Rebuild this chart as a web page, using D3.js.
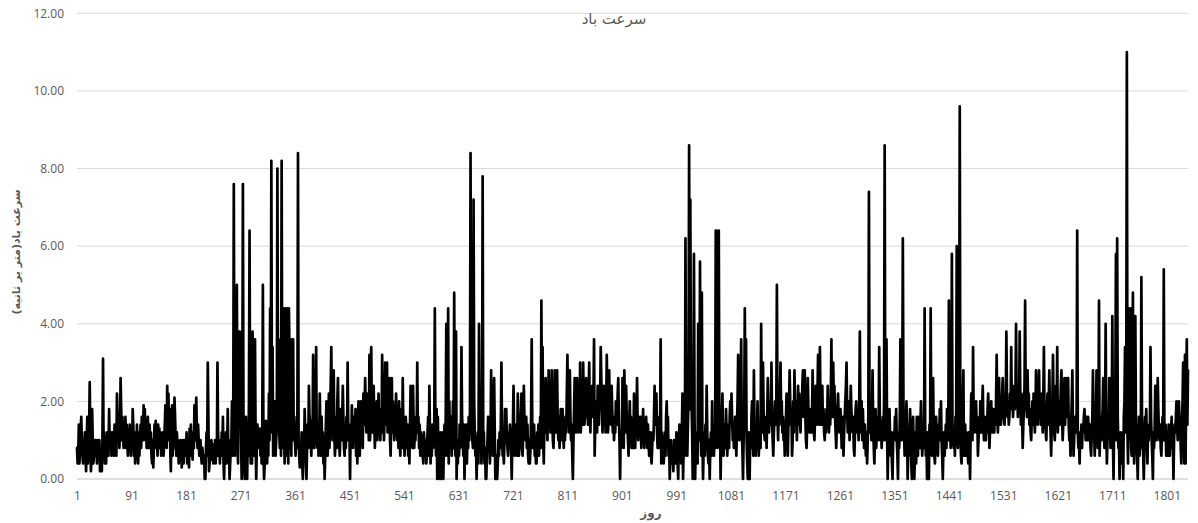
<!DOCTYPE html>
<html><head><meta charset="utf-8">
<script src="https://cdn.jsdelivr.net/npm/d3@7"></script>
<style>body{margin:0;background:#fff;} svg{display:block;}</style>
</head><body>
<svg id="chart" width="1198" height="523"></svg>
<script>
const chartTitle = "سرعت باد";
const yAxisTitle = "سرعت باد(متر بر ثانیه)";
const xAxisTitle = "روز";
const yTicks = [0, 2, 4, 6, 8, 10, 12];
const xTicks = [1, 91, 181, 271, 361, 451, 541, 631, 721, 811, 901, 991, 1081, 1171, 1261, 1351, 1441, 1531, 1621, 1711, 1801];

// daily wind speed (m/s), days 1-360
const windPart1 = [
0.8,0.4,0.6,1.4,0.4,0.8,1.2,1.6,1.0,0.6,0.4,1.0,0.8,1.2,0.6,0.2,1.0,1.6,0.4,0.8,1.2,2.5,1.0,0.2,0.6,1.8,1.0,0.4,0.6,1.0,
0.6,1.0,0.8,0.4,1.0,0.6,0.8,1.0,0.2,0.6,0.4,0.2,1.0,3.1,0.6,1.2,0.4,0.8,0.4,1.0,1.2,0.8,0.6,1.8,1.0,0.8,1.2,0.6,1.0,1.2,
1.0,0.6,1.4,0.8,1.2,0.6,2.2,1.6,1.0,1.4,0.8,1.2,2.6,1.8,1.0,1.6,1.2,0.8,1.4,1.0,1.6,0.8,1.4,1.0,0.6,1.2,0.8,1.4,1.0,0.6,
1.2,0.8,1.8,1.4,0.6,1.2,0.4,1.0,0.6,1.4,0.8,0.4,1.2,0.6,1.0,1.4,0.8,1.6,1.2,1.0,1.9,1.4,1.8,1.0,1.4,0.8,1.2,1.6,0.8,1.2,
1.4,0.8,1.2,0.6,0.4,1.0,0.3,0.8,1.4,1.0,1.5,0.8,1.2,0.6,1.4,1.0,1.3,0.8,1.2,0.6,1.0,0.8,1.2,0.6,1.0,1.4,1.9,1.2,0.8,2.4,
1.6,2.2,1.0,1.8,0.8,0.2,1.2,1.9,0.6,1.4,0.8,2.1,1.6,1.0,0.6,1.2,0.8,1.0,0.4,0.9,0.6,1.0,0.8,0.3,0.6,1.0,0.4,0.8,1.0,0.6,
0.6,1.2,0.4,0.8,1.0,0.3,1.3,0.8,1.4,0.6,1.0,0.5,1.2,0.8,1.9,1.0,1.6,2.1,1.2,0.8,1.4,1.0,0.6,0.8,1.0,0.6,0.4,0.8,0.6,0.4,
0.6,0.0,0.0,0.8,1.2,0.6,3.0,1.6,0.2,0.4,0.8,0.5,1.0,0.6,0.9,0.4,0.8,0.6,1.0,0.4,0.8,0.6,3.0,1.2,0.6,1.0,0.4,0.8,0.6,1.2,
0.8,1.6,0.4,0.0,1.0,0.6,1.2,0.4,0.8,1.8,0.6,1.0,0.0,0.4,0.8,1.0,2.0,0.6,1.2,7.6,1.4,0.6,2.2,0.8,5.0,1.0,0.4,3.8,1.6,3.8,
2.2,1.0,0.0,1.4,7.6,1.2,0.4,0.0,0.8,1.6,0.4,0.0,1.0,0.6,2.0,6.4,1.2,0.4,1.0,0.4,3.8,1.4,0.6,2.2,3.6,1.0,0.0,0.8,1.4,1.0,
1.2,0.8,1.3,0.6,1.0,0.4,1.2,5.0,0.6,0.0,0.4,1.0,1.5,0.8,0.4,1.2,0.6,2.2,1.0,4.4,1.6,8.2,1.2,3.4,0.6,1.4,0.9,2.0,0.6,1.0,
1.4,8.0,2.0,3.6,1.2,0.8,1.4,0.6,8.2,1.6,0.8,4.4,1.2,0.4,4.4,2.0,0.6,4.4,1.0,0.4,4.4,3.2,0.8,1.2,0.6,3.6,2.4,3.6,1.0,1.6
];
// days 361-720
const windPart2 = [
1.0,0.6,1.4,0.8,1.6,8.4,1.0,0.6,0.3,0.8,0.6,1.2,0.4,0.0,1.0,0.6,1.8,1.2,0.4,0.0,0.8,1.4,0.8,2.4,1.6,1.5,1.0,0.6,1.4,0.8,
3.2,1.2,0.8,2.0,1.6,3.4,1.0,0.8,1.4,0.6,1.0,2.2,1.2,0.6,1.6,0.8,1.2,0.4,1.0,0.0,0.6,1.4,2.0,1.0,0.6,1.2,2.2,0.8,1.6,2.4,
3.4,1.6,1.0,1.4,2.8,1.2,0.6,1.0,1.6,0.8,2.0,2.6,1.4,1.0,0.6,1.2,1.8,1.0,1.4,2.4,1.6,0.8,0.6,1.2,0.8,1.6,1.0,3.0,1.4,1.0,
1.2,0.0,1.4,1.0,1.9,1.2,0.8,1.6,1.4,1.0,1.8,0.6,1.2,0.4,1.6,2.0,1.0,0.6,1.4,2.0,1.2,1.6,0.8,2.2,1.4,2.0,2.6,1.6,1.2,2.2,
1.4,2.2,1.0,3.2,1.0,1.8,3.4,1.6,1.2,2.0,2.4,1.4,0.8,1.6,1.4,2.0,1.0,1.4,2.2,1.2,1.6,1.0,1.8,1.2,3.2,1.4,2.0,1.0,1.6,3.0,
2.8,1.4,3.0,1.2,1.8,1.2,2.6,1.0,0.6,1.6,2.6,1.2,2.0,1.4,1.0,1.6,1.2,2.2,1.4,1.0,1.4,0.8,2.0,1.0,0.6,1.2,1.8,0.8,2.6,1.4,
1.2,0.6,1.0,1.6,1.2,0.8,1.4,0.6,1.0,0.4,1.4,2.4,1.0,1.6,0.8,2.4,1.4,0.8,1.2,1.0,1.6,1.2,3.0,1.2,1.6,0.8,1.4,0.6,1.2,1.0,
1.0,0.6,0.4,1.2,0.8,0.6,1.0,0.4,0.8,1.2,1.6,0.6,2.4,1.2,0.4,1.0,0.6,1.4,0.8,1.2,1.0,4.4,1.2,0.6,1.8,0.0,1.6,0.4,1.0,0.0,
1.2,0.0,1.0,0.4,1.2,0.0,0.8,1.4,0.6,1.6,4.0,1.4,0.6,4.4,0.4,2.0,0.8,1.0,1.6,0.6,1.2,2.0,0.8,4.8,1.4,0.6,3.8,0.0,1.0,0.4,
1.0,0.6,1.4,0.8,1.2,3.4,1.6,1.2,0.6,1.4,0.0,1.0,0.6,1.4,0.4,1.2,0.8,1.6,1.0,1.6,8.4,1.2,3.6,1.0,0.8,7.2,2.0,1.2,0.6,1.0,
0.0,0.8,1.2,0.4,4.0,1.6,0.8,1.2,0.4,1.0,7.8,0.6,1.2,0.4,0.8,0.0,0.0,0.6,1.0,1.6,0.8,1.4,0.4,1.0,2.8,1.4,1.2,0.6,2.0,2.6,
1.2,0.0,0.4,0.6,0.0,0.4,1.0,0.6,1.2,0.8,1.4,3.0,1.2,0.6,1.0,0.4,1.0,1.8,1.2,1.8,1.0,0.8,0.6,1.2,0.8,1.4,1.0,0.8,0.0,1.0
];
// days 721-1080
const windPart3 = [
1.4,2.4,1.2,0.6,1.0,1.4,0.8,0.6,2.2,1.2,0.6,1.0,0.8,1.6,2.2,0.8,0.6,1.2,2.4,1.6,1.2,1.0,1.6,0.8,1.4,0.6,0.4,1.0,0.4,0.8,
1.6,3.6,1.4,0.8,1.2,1.4,0.6,1.0,0.4,0.4,1.2,0.8,1.4,0.6,1.0,1.6,0.8,4.6,1.8,3.4,1.0,0.4,1.6,1.2,2.6,1.6,1.4,1.0,1.8,2.8,
1.4,2.0,1.2,1.8,2.8,1.6,1.0,0.8,1.4,2.8,2.0,1.2,1.6,2.8,1.4,1.0,1.6,0.8,1.2,1.8,1.6,1.0,1.8,1.2,0.8,1.4,1.0,1.6,1.2,2.2,
3.2,2.0,1.8,1.2,2.8,1.6,1.0,1.4,0.6,0.0,1.0,1.8,2.6,1.4,1.2,1.8,2.6,1.6,1.2,1.8,1.4,3.0,1.2,1.6,2.0,1.4,3.0,2.0,1.4,1.6,
1.6,2.6,1.8,2.2,1.4,2.0,3.0,1.6,1.2,2.2,1.8,2.4,1.6,2.0,3.6,0.6,1.4,1.6,2.0,1.2,2.4,1.8,1.4,2.2,2.0,3.4,2.6,1.8,1.2,2.0,
2.4,1.6,2.0,1.2,1.8,3.2,2.0,1.2,1.6,2.8,1.6,2.2,1.4,2.4,1.8,1.2,1.6,1.0,1.4,1.2,2.0,1.6,1.4,2.2,2.6,1.6,1.0,0.0,1.2,0.8,
1.0,2.6,1.4,0.8,2.8,1.8,1.2,2.4,1.6,1.4,1.0,0.6,1.4,2.0,1.2,1.6,0.8,1.0,1.4,0.8,2.2,1.4,0.8,1.6,1.2,2.6,1.4,1.0,1.6,1.2,
1.2,1.6,0.8,1.4,1.0,1.8,1.2,0.8,1.4,1.0,1.6,1.2,0.8,1.4,1.0,0.6,0.8,1.2,0.6,0.4,0.8,1.2,1.0,1.6,2.4,1.4,1.8,2.2,1.2,0.8,
1.2,0.8,1.6,1.0,3.6,0.4,1.2,0.8,1.0,0.4,0.8,1.2,0.6,1.6,2.0,1.2,1.6,0.6,1.0,0.0,0.6,1.0,0.4,0.8,0.6,0.2,1.0,0.6,1.0,0.4,
1.2,0.8,0.4,0.0,1.0,1.4,0.6,1.0,0.4,1.2,2.2,0.0,0.8,1.0,0.6,6.2,1.6,1.0,0.6,1.4,2.0,8.6,1.8,7.2,2.4,2.0,1.2,0.0,1.4,5.8,
1.6,0.0,1.2,0.6,1.0,0.4,4.0,1.4,1.0,5.6,1.2,0.6,4.8,1.0,0.0,0.8,1.2,0.6,1.4,1.0,2.4,1.2,0.6,0.4,1.0,0.0,0.8,1.2,0.6,2.0,
0.8,1.4,0.6,1.2,0.8,6.4,6.4,2.0,0.8,1.6,6.4,1.2,1.6,0.0,1.0,1.6,2.2,1.2,0.6,1.4,1.0,0.8,1.8,1.2,0.6,1.0,1.4,0.8,1.6,2.0
];
// days 1081-1440
const windPart4 = [
1.4,2.2,1.6,1.0,1.4,0.8,1.0,1.6,1.2,0.6,1.4,2.0,3.2,1.4,1.0,1.6,2.2,3.6,1.2,0.8,0.0,1.0,1.6,4.4,1.8,3.6,1.0,0.4,0.0,1.2,
1.0,0.0,1.2,0.8,1.6,2.0,1.2,0.6,2.8,1.4,0.8,0.6,1.4,1.0,2.0,1.2,0.6,1.0,1.4,0.8,4.0,1.6,1.2,3.0,1.8,1.2,1.0,1.4,1.6,0.8,
1.6,2.6,1.8,1.2,1.6,2.0,1.4,3.0,1.6,1.0,0.6,1.2,1.6,2.0,1.4,1.8,5.0,1.6,1.0,1.8,1.4,2.2,3.0,1.6,2.0,1.2,1.6,1.0,1.2,0.6,
1.2,1.6,2.2,1.0,0.6,1.4,1.8,2.8,2.0,1.4,1.8,0.6,1.0,2.0,1.2,2.8,1.8,1.4,2.0,1.0,1.6,2.4,1.4,2.2,1.6,1.2,2.0,1.6,2.4,2.8,
2.0,1.6,2.8,1.6,1.0,0.8,1.4,2.6,1.8,1.6,1.2,1.4,1.8,1.2,1.6,2.8,1.8,1.2,1.0,1.6,2.4,1.8,1.4,2.2,3.2,2.0,1.4,3.4,2.0,1.4,
1.6,2.4,1.4,1.8,1.2,1.0,1.6,1.2,1.8,1.4,2.4,1.6,1.2,1.8,1.4,2.0,3.6,1.8,1.6,3.0,2.0,2.4,1.6,1.2,0.8,1.4,1.8,2.2,1.6,1.2,
1.2,1.8,1.4,0.8,1.0,1.6,0.6,1.2,1.6,2.0,2.4,3.0,1.8,1.2,1.6,2.0,1.0,1.6,2.4,1.8,1.4,1.2,1.6,0.8,0.6,1.2,1.8,2.0,1.4,1.2,
1.6,1.0,2.0,3.8,1.4,1.2,2.0,1.0,1.8,1.2,0.8,1.4,1.0,0.6,1.2,0.4,1.0,1.6,7.4,1.6,1.2,2.0,1.0,1.6,2.8,1.4,0.8,0.4,1.2,1.8,
0.8,1.2,1.6,1.0,1.4,3.4,1.6,1.0,1.4,0.8,1.2,1.6,1.0,2.0,8.6,1.4,1.0,3.6,1.2,0.0,1.0,1.4,1.8,1.0,0.6,1.2,0.4,0.0,1.0,1.2,
1.0,1.6,1.2,1.8,1.0,0.6,0.0,1.2,0.8,1.6,3.6,1.4,1.0,1.8,6.2,2.0,1.2,0.6,1.4,1.0,2.0,1.2,0.0,0.8,0.6,1.2,1.8,1.0,0.4,0.0,
1.2,1.6,0.8,0.0,0.6,1.2,0.4,1.6,1.0,0.6,1.6,1.0,0.8,1.4,2.0,1.2,0.6,1.0,1.4,0.8,4.4,1.2,0.6,1.0,0.0,1.2,0.6,0.0,1.4,1.0,
4.4,1.2,0.6,1.0,2.6,1.2,0.6,0.4,1.0,1.6,0.8,1.2,0.6,1.4,1.0,1.8,1.2,2.0,1.0,0.6,0.0,0.8,1.2,0.6,1.0,1.4,0.8,1.8,1.2,1.0
];
// days 1441-1800
const windPart5 = [
4.6,1.0,1.6,0.8,1.2,5.8,1.4,1.0,0.8,1.2,0.6,1.6,1.0,6.0,1.2,0.8,1.6,2.0,9.6,1.4,0.6,0.4,1.2,2.0,2.8,0.6,1.0,1.4,0.6,1.2,
1.0,0.8,0.4,1.2,1.0,0.0,1.2,2.2,1.4,1.0,3.4,1.6,1.2,1.8,1.4,2.0,1.2,1.6,0.6,1.0,1.4,1.2,2.0,1.6,1.2,1.8,2.4,1.4,1.0,1.6,
1.4,1.0,1.6,1.2,1.8,2.2,1.4,0.8,1.2,1.6,2.0,1.4,1.2,1.8,1.6,1.2,1.8,1.4,2.0,3.2,1.6,1.2,1.8,2.6,1.4,2.0,1.4,1.6,2.2,2.6,
2.0,1.6,1.4,2.0,1.8,3.8,2.2,1.6,2.0,1.4,1.6,2.2,1.8,3.4,1.8,2.4,1.6,2.0,2.4,1.8,2.2,4.0,2.0,2.2,1.6,2.4,1.8,3.8,2.2,1.4,
2.2,1.6,0.8,1.4,1.8,2.4,4.6,1.8,2.2,1.6,2.8,1.8,2.2,1.4,1.8,1.2,1.0,1.6,2.0,1.4,2.2,1.8,1.2,1.6,2.8,2.0,1.6,1.4,2.0,2.8,
1.6,2.2,1.4,1.8,2.2,1.2,2.0,3.4,1.8,1.6,1.2,1.0,1.8,2.2,1.4,2.0,2.8,1.6,1.2,0.6,1.4,2.0,3.2,1.8,1.2,1.0,1.8,2.4,1.6,3.4,
1.2,1.6,2.0,1.4,1.8,2.4,2.8,1.6,1.0,1.4,2.0,2.6,1.4,2.2,1.6,2.6,1.8,2.6,1.4,1.0,1.2,0.6,1.4,2.0,2.8,1.2,0.6,1.0,1.6,1.4,
1.2,1.6,6.4,1.2,0.8,1.0,0.4,1.2,1.0,1.4,0.8,1.4,1.2,1.6,1.8,1.4,1.0,1.2,1.6,1.0,1.6,1.2,1.0,1.4,0.8,0.6,1.2,1.6,2.8,1.4,
1.2,0.6,1.4,1.8,2.8,1.2,0.8,1.4,4.6,0.6,1.2,1.6,1.0,1.4,1.8,2.6,1.2,0.8,1.6,4.0,1.4,0.4,1.0,1.6,1.2,2.6,1.4,0.8,1.0,1.6,
4.2,1.0,0.0,1.4,1.2,2.4,5.8,1.0,6.2,1.6,0.8,1.0,0.0,1.2,0.6,1.0,0.4,1.2,0.0,1.6,2.0,3.4,1.2,2.0,11.0,1.2,0.4,4.4,1.0,4.2,
4.4,0.8,0.6,1.6,4.8,1.2,0.4,1.0,4.2,1.4,1.2,0.6,0.0,1.0,1.6,0.6,1.2,0.8,5.2,1.6,1.0,0.6,0.0,0.8,1.6,1.2,1.8,1.0,0.4,1.2,
1.0,1.4,1.2,3.4,1.6,1.0,0.6,0.0,1.2,0.8,1.4,2.4,1.6,1.0,1.4,2.6,1.8,1.2,1.0,1.4,0.8,0.6,1.2,1.6,1.0,5.4,1.2,1.0,1.4,0.6
];
// days 1801-1836
const windPart6 = [
0.8,1.2,0.6,1.4,1.0,0.6,1.2,1.2,1.6,0.8,1.0,0.0,1.0,1.4,1.2,1.6,2.0,1.4,1.0,1.6,2.0,1.2,1.4,0.8,0.4,1.6,2.0,3.0,1.4,0.4,
3.2,0.4,2.4,3.6,1.4,2.8
];

const windSpeed = [].concat(windPart1, windPart2, windPart3, windPart4, windPart5, windPart6);
const data = windSpeed.map((v, i) => ({ day: i + 1, value: v }));

const svg = d3.select("#chart");
const plotLeft = 77, plotRight = 1188, plotTop = 13.3, plotBottom = 479;
const x = d3.scaleLinear().domain([1, windSpeed.length]).range([plotLeft, plotRight]);
const y = d3.scaleLinear().domain([0, 12]).range([plotBottom, plotTop]);
const textColor = "#595959";
const latin = "'Open Sans', 'Noto Sans', sans-serif";
const persian = "'DejaVu Sans', 'Noto Sans', sans-serif";

// gridlines
svg.append("g").selectAll("line").data(yTicks).join("line")
  .attr("x1", plotLeft).attr("x2", plotRight)
  .attr("y1", d => y(d)).attr("y2", d => y(d))
  .attr("stroke", d => d === 0 ? "#bfbfbf" : "#d9d9d9").attr("stroke-width", 1);

// y axis labels
const yAxis = d3.axisLeft(y).tickValues(yTicks).tickSize(0).tickPadding(13).tickFormat(d3.format(".2f"));
const gy = svg.append("g").attr("transform", `translate(${plotLeft},0)`).call(yAxis);
gy.select(".domain").remove();
gy.selectAll("text").attr("fill", textColor).style("font-family", latin).style("font-size", "12px");

// x axis labels
const xAxis = d3.axisBottom(x).tickValues(xTicks).tickSize(0).tickPadding(12).tickFormat(d3.format("d"));
const gx = svg.append("g").attr("transform", `translate(0,${plotBottom})`).call(xAxis);
gx.select(".domain").remove();
gx.selectAll("text").attr("fill", textColor).style("font-family", latin).style("font-size", "12px");

// line
const line = d3.line().x(d => x(d.day)).y(d => y(d.value));
svg.append("path").datum(data)
  .attr("d", line)
  .attr("fill", "none").attr("stroke", "#000").attr("stroke-width", 2.7)
  .attr("stroke-linejoin", "round").attr("stroke-linecap", "round");

// title
svg.append("text").attr("x", 614).attr("y", 24).attr("text-anchor", "middle")
  .attr("fill", textColor).style("font-family", persian).style("font-size", "15px")
  .attr("direction", "rtl").text(chartTitle);

// y axis title
svg.append("text").attr("transform", "translate(20,252) rotate(-90)").attr("text-anchor", "middle")
  .attr("fill", textColor).style("font-family", persian).style("font-size", "11px").style("font-weight", "bold")
  .attr("direction", "rtl").text(yAxisTitle);

// x axis title
svg.append("text").attr("x", 651).attr("y", 517).attr("text-anchor", "middle")
  .attr("fill", textColor).style("font-family", persian).style("font-size", "12px").style("font-weight", "bold")
  .attr("direction", "rtl").text(xAxisTitle);
</script>
</body></html>
